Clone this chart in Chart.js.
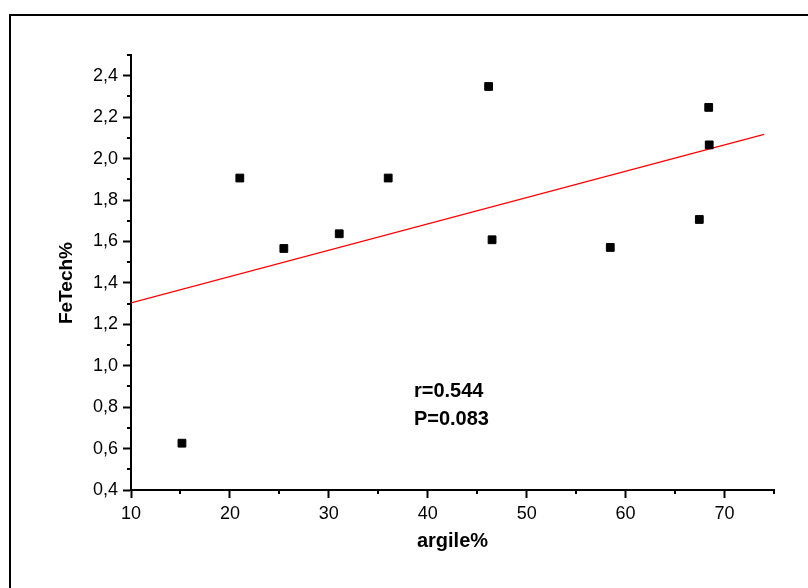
<!DOCTYPE html>
<html>
<head>
<meta charset="utf-8">
<script src="https://cdn.jsdelivr.net/npm/chart.js@4"></script>
<style>
  body { margin: 0; background: #fff; }
  #wrap { position: relative; width: 808px; height: 588px; overflow: hidden; }
  #frame { position: absolute; left: 9px; top: 14px; width: 900px; height: 700px;
           border-top: 2px solid #000; border-left: 2px solid #000; pointer-events: none; }
  canvas { position: absolute; left: 0; top: 0; }
</style>
</head>
<body>
<div id="wrap">
  <canvas id="fe-chart" width="808" height="588"></canvas>
  <div id="frame"></div>
</div>
<script>
// argile% vs FeTech% samples
const argile = [15.15, 21.0, 25.45, 31.05, 36.0, 46.15, 46.5, 58.45, 67.45, 68.4, 68.45];
const feTech = [0.626, 1.906, 1.566, 1.637, 1.906, 2.348, 1.608, 1.571, 1.706, 2.247, 2.066];

// linear fit endpoints
const fitX = [10, 74];
const fitY = [1.303, 2.117];

const statsLines = ['r=0.544', 'P=0.083'];
const statsAt = { x: 38.6, y: 0.847 };

const FONT = "'Liberation Sans', Arial, sans-serif";

const points = argile.map((x, i) => ({ x: x, y: feTech[i] }));
const fitLine = fitX.map((x, i) => ({ x: x, y: fitY[i] }));

const isMajorY = v => Math.round(v * 10) % 2 === 0;
const isMajorX = v => Math.round(v) % 10 === 0;

// short minor ticks, chart.js only has one tick length per scale
const minorTicks = {
  id: 'minorTicks',
  afterDraw(chart) {
    const ctx = chart.ctx;
    const xs = chart.scales.x, ys = chart.scales.y;
    ctx.save();
    ctx.strokeStyle = '#000';
    ctx.lineWidth = 2;
    ctx.beginPath();
    xs.ticks.forEach(t => {
      if (isMajorX(t.value)) return;
      const px = Math.round(xs.getPixelForValue(t.value));
      ctx.moveTo(px, xs.top);
      ctx.lineTo(px, xs.top + 4);
    });
    ys.ticks.forEach(t => {
      if (isMajorY(t.value)) return;
      const py = Math.round(ys.getPixelForValue(t.value));
      ctx.moveTo(ys.right, py);
      ctx.lineTo(ys.right - 4, py);
    });
    ctx.stroke();
    ctx.restore();
  }
};

const statsText = {
  id: 'statsText',
  afterDatasetsDraw(chart) {
    const ctx = chart.ctx;
    const px = chart.scales.x.getPixelForValue(statsAt.x);
    const py = chart.scales.y.getPixelForValue(statsAt.y);
    ctx.save();
    ctx.fillStyle = '#000';
    ctx.font = 'bold 20px ' + FONT;
    ctx.textAlign = 'left';
    ctx.textBaseline = 'alphabetic';
    statsLines.forEach((s, i) => ctx.fillText(s, px, py + i * 28));
    ctx.restore();
  }
};

new Chart(document.getElementById('fe-chart'), {
  type: 'scatter',
  data: {
    datasets: [
      {
        data: points,
        pointStyle: 'rect',
        pointRadius: 5.5,
        backgroundColor: '#000',
        borderColor: '#000',
        borderWidth: 1
      },
      {
        type: 'line',
        data: fitLine,
        borderColor: '#ff0000',
        borderWidth: 1.3,
        pointRadius: 0,
        fill: false
      }
    ]
  },
  options: {
    responsive: false,
    animation: false,
    layout: { padding: { left: 0, top: 55, right: 34, bottom: 0 } },
    plugins: { legend: { display: false }, tooltip: { enabled: false } },
    scales: {
      x: {
        type: 'linear',
        min: 10,
        max: 75,
        afterFit: axis => { axis.height = 98; },
        border: { color: '#000', width: 2 },
        grid: {
          drawOnChartArea: false,
          tickLength: 8,
          tickWidth: 2,
          tickColor: c => (c.tick && isMajorX(c.tick.value)) ? '#000' : 'rgba(0,0,0,0)'
        },
        ticks: {
          stepSize: 5,
          autoSkip: false,
          maxRotation: 0,
          padding: 5,
          color: '#000',
          font: { family: FONT, size: 18 },
          callback: v => isMajorX(v) ? String(v) : ''
        },
        title: {
          display: true,
          text: 'argile%',
          color: '#000',
          font: { family: FONT, size: 20, weight: 'bold' },
          padding: { top: 0, bottom: 35 }
        }
      },
      y: {
        type: 'linear',
        min: 0.4,
        max: 2.5,
        afterFit: axis => { axis.width = 131; },
        border: { color: '#000', width: 2 },
        grid: {
          drawOnChartArea: false,
          tickLength: 8,
          tickWidth: 2,
          tickColor: c => (c.tick && isMajorY(c.tick.value)) ? '#000' : 'rgba(0,0,0,0)'
        },
        ticks: {
          stepSize: 0.1,
          autoSkip: false,
          padding: 5,
          color: '#000',
          font: { family: FONT, size: 18 },
          callback: v => isMajorY(v) ? v.toFixed(1).replace('.', ',') : ''
        },
        title: {
          display: true,
          // trailing spaces push the label a little below the axis centre
          text: 'FeTech%    ',
          color: '#000',
          font: { family: FONT, size: 19, weight: 'bold' },
          padding: { top: 55, bottom: 0 }
        }
      }
    }
  },
  plugins: [minorTicks, statsText]
});
</script>
</body>
</html>
